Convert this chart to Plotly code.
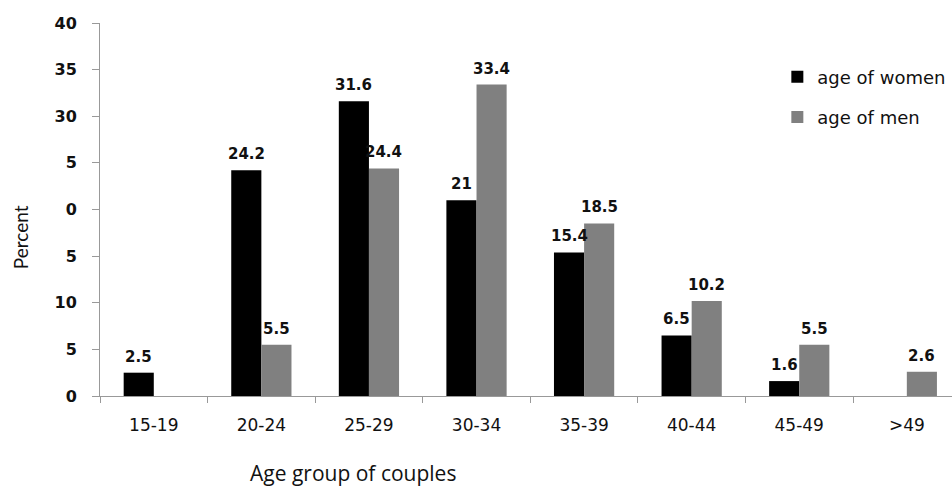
import plotly.graph_objects as go

# Age groups and percentage of couples in each, by sex
age_groups = ["15-19", "20-24", "25-29", "30-34", "35-39", "40-44", "45-49", ">49"]
women_pct = [2.5, 24.2, 31.6, 21, 15.4, 6.5, 1.6, None]
men_pct = [None, 5.5, 24.4, 33.4, 18.5, 10.2, 5.5, 2.6]

# y-axis tick positions and the labels printed next to them
y_tick_vals = [0, 5, 10, 15, 20, 25, 30, 35, 40]
y_tick_text = ["0", "5", "10", "5", "0", "5", "30", "35", "40"]

label_font = dict(family="DejaVu Sans", size=15, color="#111111")

fig = go.Figure()
fig.add_trace(go.Bar(
    name="age of women", x=age_groups, y=women_pct,
    marker=dict(color="#000000", line=dict(width=0)),
    legendgroup="w",
))
fig.add_trace(go.Bar(
    name="age of men", x=age_groups, y=men_pct,
    marker=dict(color="#808080", line=dict(width=0)),
    legendgroup="m",
))

# value labels above each bar
for series, shift in ((women_pct, -15), (men_pct, 15)):
    for cat, val in zip(age_groups, series):
        if val is None:
            continue
        fig.add_annotation(
            x=cat, y=val, xref="x", yref="y",
            text=f"<b>{val:g}</b>", showarrow=False,
            xshift=shift, yanchor="bottom", yshift=5,
            font=label_font,
        )

fig.add_annotation(
    text="Percent", xref="paper", yref="paper", x=-0.093, y=0.425,
    xanchor="center", yanchor="middle",
    textangle=-90, showarrow=False,
    font=dict(family="Lato", size=19, color="#111111"),
)
fig.add_annotation(
    text="Age group of couples", xref="paper", yref="paper",
    x=0.297, y=-0.206, xanchor="center", yanchor="middle", showarrow=False,
    font=dict(family="Open Sans", size=21, color="#111111"),
)

fig.update_layout(
    width=952, height=486,
    margin=dict(l=100, r=0, t=23, b=90),
    paper_bgcolor="white", plot_bgcolor="white",
    barmode="group", bargap=0.44, bargroupgap=0,
    showlegend=True,
    legend=dict(
        x=0.795, y=0.905, xanchor="left", yanchor="top",
        font=dict(family="DejaVu Sans", size=18, color="#111111"),
        traceorder="grouped", tracegroupgap=14,
        bgcolor="rgba(0,0,0,0)",
    ),
    xaxis=dict(
        type="category", range=[-0.5, 7.42],
        showline=True, linecolor="#999999", linewidth=1,
        ticks="outside", tickson="boundaries", ticklen=6,
        tickcolor="#999999", ticklabelstandoff=14,
        tickfont=dict(family="DejaVu Sans", size=17, color="#111111"),
        showgrid=False, zeroline=False,
    ),
    yaxis=dict(
        range=[0, 40], tickvals=y_tick_vals, ticktext=y_tick_text,
        showline=True, linecolor="#999999", linewidth=1,
        ticks="outside", ticklen=7, tickcolor="#999999",
        ticklabelstandoff=12,
        tickfont=dict(family="DejaVu Sans", size=16, color="#111111",
                      weight="bold"),
        showgrid=False, zeroline=False,
    ),
)

fig.write_html("out.html")
